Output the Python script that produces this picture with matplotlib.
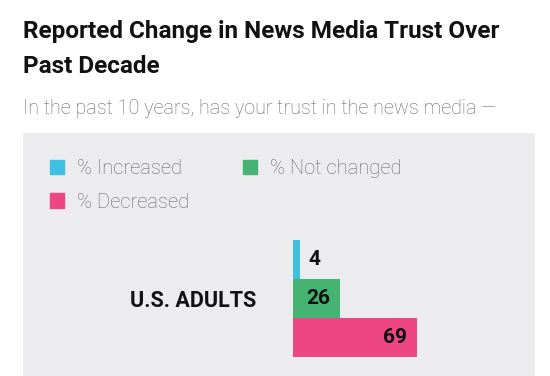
import matplotlib.pyplot as plt
from matplotlib.patches import Rectangle, Patch

# data
group = 'U.S. ADULTS'
series = ['% Increased', '% Not changed', '% Decreased']
values = [4, 26, 69]
colors = ['#3fc0e1', '#45b472', '#ee4683']

title_font = ['Roboto', 'DejaVu Sans']

fig = plt.figure(figsize=(5.5, 3.76), dpi=100)
fig.patch.set_facecolor('white')

# gray panel behind the chart
fig.patches.append(Rectangle((0.0413, 0), 0.9314, 0.647, transform=fig.transFigure,
                             facecolor='#ecebed', edgecolor='none', zorder=-5))

fig.text(0.042, 0.8997, 'Reported Change in News Media Trust Over', family=title_font,
         fontweight='bold', fontsize=17.5, color='#111111', va='baseline')
fig.text(0.042, 0.8066, 'Past Decade', family=title_font,
         fontweight='bold', fontsize=17.5, color='#111111', va='baseline')
fig.text(0.042, 0.6968, 'In the past 10 years, has your trust in the news media \u2014',
         family=title_font, fontweight='light', fontsize=14.25, color='#686868', va='baseline')

ax = fig.add_axes([0.5322, 0.0513, 0.3273, 0.3104])
ax.set_facecolor('none')

offsets = [1, 0, -1]
for name, v, c, off in zip(series, values, colors, offsets):
    ax.barh(0 + off, v, height=1, color=c, label=name)
    if v < 10:
        ax.annotate(str(v), xy=(v, off), xytext=(6.5, 0), textcoords='offset points',
                    ha='left', va='center', family=title_font, fontweight='bold',
                    fontsize=15, color='#111111')
    else:
        ax.annotate(str(v), xy=(v, off), xytext=(-7, 0), textcoords='offset points',
                    ha='right', va='center', family=title_font, fontweight='bold',
                    fontsize=15, color='#111111')

ax.set_xlim(0, 100)
ax.set_ylim(-1.5, 1.5)
ax.set_yticks([0])
ax.set_yticklabels([group], family=title_font, fontweight='bold', fontsize=15.5, color='#111111')
ax.tick_params(axis='y', length=0, pad=26)
ax.set_xticks([])
for s in ax.spines.values():
    s.set_visible(False)

# legend: column-wise fill, so order gives Increased/Not changed on top row
handles = [Patch(color=colors[0]), Patch(color=colors[2]), Patch(color=colors[1])]
labels = [series[0], series[2], series[1]]
fig.legend(handles, labels, ncol=2, loc='upper left', bbox_to_anchor=(0.0914, 0.5758),
           frameon=False, prop={'family': title_font, 'weight': 'light', 'size': 14.5},
           labelcolor='#686868', handlelength=0.7, handleheight=0.7, handletextpad=0.65,
           labelspacing=0.7, columnspacing=2.66, borderpad=0, borderaxespad=0)

fig.savefig('out.png', dpi=100)
